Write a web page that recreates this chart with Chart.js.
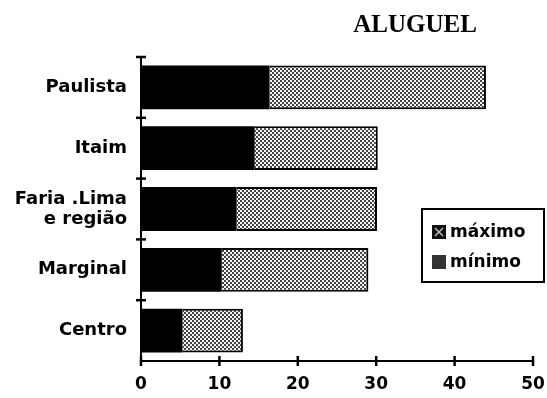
<!DOCTYPE html>
<html>
<head>
<meta charset="utf-8">
<script src="https://cdn.jsdelivr.net/npm/chart.js@4.4.1/dist/chart.umd.min.js"></script>
<style>
  html, body { margin: 0; padding: 0; background: #fff; }
</style>
</head>
<body>
<canvas id="c" width="547" height="398"></canvas>
<script>
// Rent ranges by office region
const regioes = ['Paulista', 'Itaim', ['Faria .Lima', 'e região'], 'Marginal', 'Centro'];
const minimo = [16.4, 14.5, 12.2, 10.3, 5.3];
const maximo = [44.0, 30.2, 30.1, 29.0, 13.0];
const xTicks = [0, 10, 20, 30, 40, 50];
const titulo = 'ALUGUEL';
const legendaNomes = ['máximo', 'mínimo'];

// stippled grey fill for the upper part of each range
function makeStipple() {
  const t = document.createElement('canvas');
  t.width = 4; t.height = 4;
  const g = t.getContext('2d');
  for (let y = 0; y < 4; y++) {
    for (let x = 0; x < 4; x++) {
      const dark = (((x >> 1) + (y >> 1)) % 2) === 0;
      g.fillStyle = dark ? '#444' : '#f4f4f4';
      g.fillRect(x, y, 1, 1);
    }
  }
  return document.getElementById('c').getContext('2d').createPattern(t, 'repeat');
}
const stipple = makeStipple();

const axisFont = { family: 'DejaVu Sans', weight: 'bold', size: 18, lineHeight: 1.1 };

const decor = {
  id: 'decor',
  afterDraw(chart) {
    const ctx = chart.ctx;
    const a = chart.chartArea;
    const ys = chart.scales.y;
    const xs = chart.scales.x;
    ctx.save();
    ctx.strokeStyle = '#000';
    ctx.lineWidth = 2.5;
    // category boundary ticks on the vertical axis
    const n = ys.ticks.length;
    const step = (ys.bottom - ys.top) / n;
    for (let i = 0; i < n; i++) {
      const yb = ys.top + i * step;
      ctx.beginPath();
      ctx.moveTo(a.left - 5, yb);
      ctx.lineTo(a.left + 5, yb);
      ctx.stroke();
    }
    // value ticks on the horizontal axis
    xTicks.forEach(v => {
      const x = xs.getPixelForValue(v);
      ctx.beginPath();
      ctx.moveTo(x, a.bottom - 5);
      ctx.lineTo(x, a.bottom + 5);
      ctx.stroke();
    });

    // title
    ctx.fillStyle = '#000';
    ctx.font = 'bold 25px "Liberation Serif"';
    ctx.textAlign = 'center';
    ctx.textBaseline = 'middle';
    ctx.fillText(titulo, 415, 26);

    // legend box
    const bx = 422, by = 209, bw = 122, bh = 73;
    ctx.lineWidth = 2;
    ctx.strokeRect(bx, by, bw, bh);
    ctx.font = 'bold 17px "DejaVu Sans"';
    ctx.textAlign = 'left';
    const rows = [by + 23, by + 53];
    // swatch: máximo
    ctx.fillStyle = '#111';
    ctx.fillRect(bx + 10, rows[0] - 7, 14, 14);
    ctx.strokeStyle = '#bbb';
    ctx.lineWidth = 1.5;
    ctx.beginPath();
    ctx.moveTo(bx + 13, rows[0] - 4); ctx.lineTo(bx + 21, rows[0] + 4);
    ctx.moveTo(bx + 21, rows[0] - 4); ctx.lineTo(bx + 13, rows[0] + 4);
    ctx.stroke();
    // swatch: mínimo
    ctx.fillStyle = '#333';
    ctx.fillRect(bx + 10, rows[1] - 7, 14, 14);
    ctx.fillStyle = '#000';
    ctx.fillText(legendaNomes[0], bx + 28, rows[0] + 1);
    ctx.fillText(legendaNomes[1], bx + 28, rows[1] + 1);
    ctx.restore();
  }
};

new Chart(document.getElementById('c'), {
  type: 'bar',
  data: {
    labels: regioes,
    datasets: [
      {
        label: legendaNomes[1],
        data: minimo,
        backgroundColor: '#000',
        borderColor: '#000',
        borderWidth: 0,
        grouped: false,
        categoryPercentage: 1,
        barPercentage: 0.72
      },
      {
        label: legendaNomes[0],
        data: minimo.map((v, i) => [v, maximo[i]]),
        backgroundColor: stipple,
        borderColor: '#000',
        borderWidth: 2,
        borderSkipped: 'left',
        grouped: false,
        categoryPercentage: 1,
        barPercentage: 0.72
      }
    ]
  },
  options: {
    responsive: false,
    animation: false,
    indexAxis: 'y',
    layout: { padding: { top: 57, right: 0, bottom: 0, left: 0 } },
    plugins: {
      legend: { display: false },
      tooltip: { enabled: false },
      title: { display: false }
    },
    scales: {
      x: {
        min: 0,
        max: 50,
        afterFit: s => { s.height = 37; s.paddingRight = 14; },
        afterBuildTicks: s => { s.ticks = xTicks.map(v => ({ value: v })); },
        grid: { display: false, drawTicks: false },
        border: { display: true, color: '#000', width: 2 },
        ticks: { color: '#000', font: { family: 'DejaVu Sans', weight: 'bold', size: 17 }, padding: 13, maxRotation: 0 }
      },
      y: {
        afterFit: s => { s.width = 141; },
        grid: { display: false, drawTicks: false },
        border: { display: true, color: '#000', width: 2 },
        ticks: { color: '#000', font: axisFont, padding: 14, crossAlign: 'near' }
      }
    }
  },
  plugins: [decor]
});
</script>
</body>
</html>
